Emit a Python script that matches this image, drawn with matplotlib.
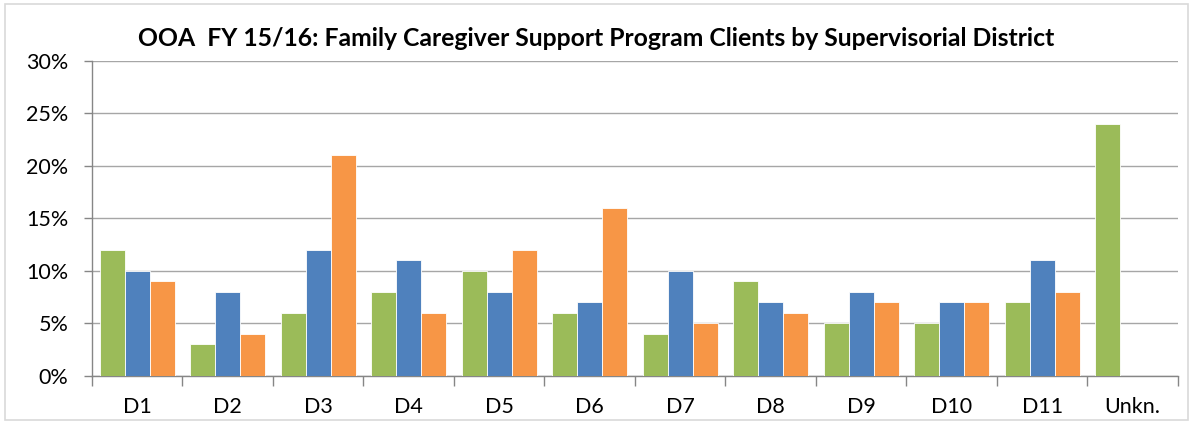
import matplotlib
matplotlib.use("Agg")
import matplotlib.pyplot as plt
import numpy as np
from matplotlib.patches import Rectangle
from matplotlib.ticker import FixedLocator, PercentFormatter

categories = ["D1", "D2", "D3", "D4", "D5", "D6", "D7", "D8", "D9", "D10", "D11", "Unkn."]
series_a = [12, 3, 6, 8, 10, 6, 4, 9, 5, 5, 7, 24]
series_b = [10, 8, 12, 11, 8, 7, 10, 7, 8, 7, 11, None]
series_c = [9, 4, 21, 6, 12, 16, 5, 6, 7, 7, 8, None]
colors = ["#9BBB59", "#4F81BD", "#F79646"]
title = "OOA  FY 15/16: Family Caregiver Support Program Clients by Supervisorial District"

plt.rcParams['font.family'] = ['Lato', 'DejaVu Sans']

fig = plt.figure(figsize=(11.93, 4.25), dpi=100)
ax = fig.add_axes([0.0771, 0.1153, 0.9103, 0.7412])
fig.patches.append(Rectangle((0.004, 0.012), 0.992, 0.978, transform=fig.transFigure,
                             fill=False, edgecolor="#D9D9D9", linewidth=1.2))

x = np.arange(len(categories))
w = 0.277
for i, (vals, c) in enumerate(zip([series_a, series_b, series_c], colors)):
    xs = [xi + (i - 1) * w for xi, v in zip(x, vals) if v is not None]
    vs = [v for v in vals if v is not None]
    ax.bar(xs, vs, width=w, color=c, edgecolor="white", linewidth=0.6, zorder=3)

ax.set_xlim(-0.5, len(categories) - 0.5)
ax.set_ylim(0, 30)
ax.yaxis.set_major_locator(FixedLocator([0, 5, 10, 15, 20, 25, 30]))
ax.yaxis.set_major_formatter(PercentFormatter(decimals=0))
ax.yaxis.grid(True, color="#A6A6A6", linewidth=1.0, zorder=0)
ax.set_axisbelow(True)

ax.set_xticks(x)
ax.set_xticklabels(categories)
ax.set_xticks(np.arange(-0.5, len(categories)), minor=True)
ax.tick_params(axis="x", which="major", length=0, pad=15, labelsize=15.5, colors="black")
ax.tick_params(axis="x", which="minor", length=7, color="#868686", width=1)
ax.tick_params(axis="y", which="major", length=6, color="#868686", width=1, labelsize=15.5, pad=11)

for s in ["top", "right"]:
    ax.spines[s].set_visible(False)
for s in ["left", "bottom"]:
    ax.spines[s].set_color("#868686")
    ax.spines[s].set_linewidth(1)

fig.text(0.5, 0.91, title, ha="center", va="center", fontsize=17.8, fontweight="bold")

fig.savefig("out.png", dpi=100)
